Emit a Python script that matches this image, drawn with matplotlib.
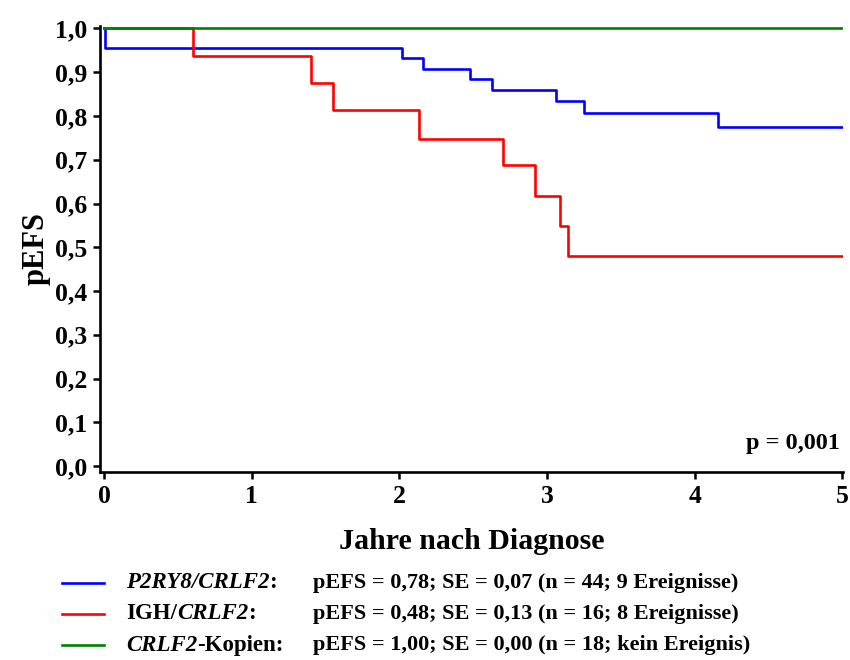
"""Kaplan-Meier pEFS nach CRLF2-Gruppe."""

import matplotlib

matplotlib.use("Agg")
import matplotlib.pyplot as plt
from matplotlib.lines import Line2D
from matplotlib.text import Annotation

plt.rcParams["font.family"] = ["Liberation Serif", "DejaVu Serif"]
plt.rcParams["font.weight"] = "bold"

# event-free survival step data (years, pEFS)
p2ry8_t = [0.0, 0.01, 2.02, 2.16, 2.48, 2.63, 3.06, 3.25, 4.16, 5.0]
p2ry8_s = [1.0, 0.955, 0.932, 0.907, 0.884, 0.860, 0.834, 0.808, 0.775, 0.775]
igh_t = [0.0, 0.60, 1.40, 1.55, 2.13, 2.70, 2.92, 3.09, 3.14, 5.0]
igh_s = [1.0, 0.937, 0.875, 0.813, 0.748, 0.687, 0.617, 0.549, 0.481, 0.481]
kopien_t = [0.0, 5.0]
kopien_s = [1.0, 1.0]

x_ticks = [0, 1, 2, 3, 4, 5]
y_ticks = [0.0, 0.1, 0.2, 0.3, 0.4, 0.5, 0.6, 0.7, 0.8, 0.9, 1.0]
y_ticklabels = ["0,0", "0,1", "0,2", "0,3", "0,4", "0,5", "0,6", "0,7", "0,8", "0,9", "1,0"]

legend_rows = [
    ("#0000ff", [("P2RY8/CRLF2", "italic"), (":", "normal")],
     "pEFS = 0,78; SE = 0,07 (n = 44; 9 Ereignisse)"),
    ("#ff0000", [("IGH/", "normal"), ("CRLF2", "italic"), (":", "normal")],
     "pEFS = 0,48; SE = 0,13 (n = 16; 8 Ereignisse)"),
    ("#008000", [("CRLF2", "italic"), ("-Kopien:", "normal")],
     "pEFS = 1,00; SE = 0,00 (n = 18; kein Ereignis)"),
]

fig = plt.figure(figsize=(8.5, 6.6), dpi=100)
ax = fig.add_axes([0.1176, 0.2848, 0.8744, 0.676])

lw = 1.9
ax.step(p2ry8_t, p2ry8_s, where="post", color="#0000ff", lw=lw)
ax.step(igh_t, igh_s, where="post", color="#ff0000", lw=lw)
ax.step(kopien_t, kopien_s, where="post", color="#008000", lw=lw)

ax.set_xlim(-0.027, 5.005)
ax.set_ylim(-0.0137, 1.006)
ax.set_xticks(x_ticks)
ax.set_xticklabels([str(v) for v in x_ticks])
ax.set_yticks(y_ticks)
ax.set_yticklabels(y_ticklabels)
ax.tick_params(labelsize=18.5, width=1.8, length=5, pad=4)

for side in ("top", "right"):
    ax.spines[side].set_visible(False)
for side in ("left", "bottom"):
    ax.spines[side].set_linewidth(1.9)

ax.set_xlabel("Jahre nach Diagnose", fontsize=21.5, fontweight="bold", labelpad=15)
ax.set_ylabel("pEFS", fontsize=22, fontweight="bold", labelpad=3)
ax.text(4.985, 0.052, "p = 0,001", ha="right", va="center", fontsize=17.5, fontweight="bold")

# legend drawn by hand so the gene names can be italic
row_y = [0.1167, 0.0697, 0.0227]
for (color, parts, stats), y in zip(legend_rows, row_y):
    fig.add_artist(Line2D([0.073, 0.122], [y, y], color=color, lw=lw, transform=fig.transFigure))
    last = None
    for text, style in parts:
        if last is None:
            last = fig.text(0.148, y, text, fontsize=16.5, fontstyle=style, fontweight="bold", va="center")
        else:
            last = fig.add_artist(Annotation(text, xy=(1, 0), xycoords=last, va="bottom", ha="left",
                                             fontsize=16.5, fontstyle=style, fontweight="bold"))
    fig.text(0.368, y, stats, fontsize=16, fontweight="bold", va="center")

fig.savefig("out.png", dpi=100)
